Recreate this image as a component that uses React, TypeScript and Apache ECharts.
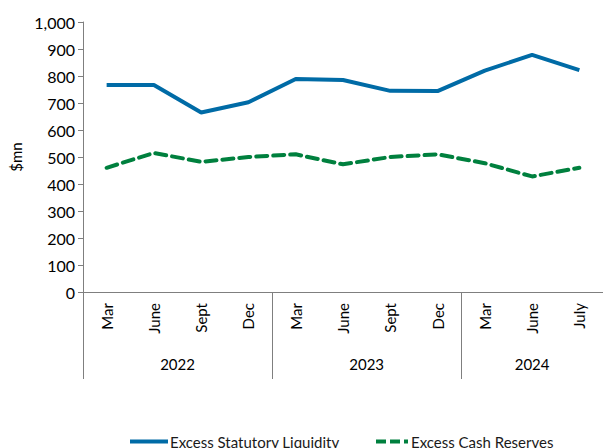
import React, { useEffect, useRef } from "react";
import * as echarts from "echarts";

const months = ["Mar", "June", "Sept", "Dec", "Mar", "June", "Sept", "Dec", "Mar", "June", "July"];
const years = ["2022", "2023", "2024"];
const yearCenters = [2, 6, 9.5];
const yearDividers = [0, 4, 8];
const statutoryLiquidity = [767, 767, 665, 703, 789, 785, 745, 744, 820, 878, 822];
const cashReserves = [460, 515, 482, 500, 510, 473, 500, 510, 477, 428, 460];
const yTicks = [0, 100, 200, 300, 400, 500, 600, 700, 800, 900, 1000];

const FONT = "Lato";
const BLUE = "#006ba6";
const GREEN = "#00803e";

export default function App() {
  const ref = useRef<HTMLDivElement>(null);
  useEffect(() => {
    if (!ref.current) return;
    const chart = echarts.init(ref.current, undefined, { renderer: "svg" });
    chart.setOption({
      animation: false,
      textStyle: { fontFamily: FONT },
      grid: { left: 83, right: 0, top: 22, bottom: 156, containLabel: false },
      legend: [
        {
          data: [{ name: "Excess Statutory Liquidity", icon: "rect", itemStyle: { color: BLUE } }],
          left: 130,
          top: 434,
          padding: 0,
          itemWidth: 38,
          itemHeight: 4,
          itemGap: 2,
          textStyle: { fontFamily: FONT, fontSize: 15, color: "#1a1a1a", padding: [0, 0, 0, -3] },
        },
        {
          data: [
            {
              name: "Excess Cash Reserves",
              icon: "path://M0,0h10v4h-10z M14,0h10v4h-10z M28,0h4v4h-4z",
              itemStyle: { color: GREEN },
            },
          ],
          left: 376,
          top: 434,
          padding: 0,
          itemWidth: 34,
          itemHeight: 4,
          itemGap: 2,
          textStyle: { fontFamily: FONT, fontSize: 15, color: "#1a1a1a", padding: [0, 0, 0, -3] },
        },
      ],
      xAxis: [
        {
          type: "category",
          data: months,
          boundaryGap: true,
          axisLine: { lineStyle: { color: "#7f7f7f", width: 1 } },
          axisTick: { show: false },
          axisLabel: { rotate: 90, margin: 11, fontSize: 15, color: "#000", fontFamily: FONT },
        },
        {
          type: "value",
          min: 0,
          max: 11,
          position: "bottom",
          axisLine: { show: false },
          splitLine: { show: false },
          axisTick: {
            show: true,
            customValues: yearDividers,
            length: 87,
            lineStyle: { color: "#7f7f7f", width: 1 },
          },
          axisLabel: {
            customValues: yearCenters,
            margin: 64,
            fontSize: 15,
            color: "#000",
            fontFamily: FONT,
            formatter: (v: number) => years[yearCenters.indexOf(v)] ?? "",
          },
        },
      ],
      yAxis: {
        type: "value",
        min: 0,
        max: 1000,
        interval: 100,
        name: "$mn",
        nameLocation: "middle",
        nameGap: 53,
        nameTextStyle: { fontSize: 15, color: "#000", fontFamily: FONT },
        splitLine: { show: false },
        axisLine: { show: true, lineStyle: { color: "#7f7f7f", width: 1 } },
        axisTick: { show: true, inside: false, length: 5, lineStyle: { color: "#7f7f7f" } },
        axisLabel: {
          margin: 8,
          fontSize: 16,
          color: "#000",
          fontFamily: FONT,
          customValues: yTicks,
          formatter: (v: number) => v.toLocaleString("en-US"),
        },
      },
      series: [
        {
          name: "Excess Statutory Liquidity",
          type: "line",
          data: statutoryLiquidity,
          symbol: "none",
          color: BLUE,
          lineStyle: { width: 4, color: BLUE },
        },
        {
          name: "Excess Cash Reserves",
          type: "line",
          data: cashReserves,
          symbol: "none",
          color: GREEN,
          lineStyle: { width: 4, color: GREEN, type: [11, 6], cap: "round" },
        },
      ],
    });
    return () => chart.dispose();
  }, []);
  return <div ref={ref} style={{ width: 603, height: 448, position: "absolute", left: 0, top: 0 }} />;
}
